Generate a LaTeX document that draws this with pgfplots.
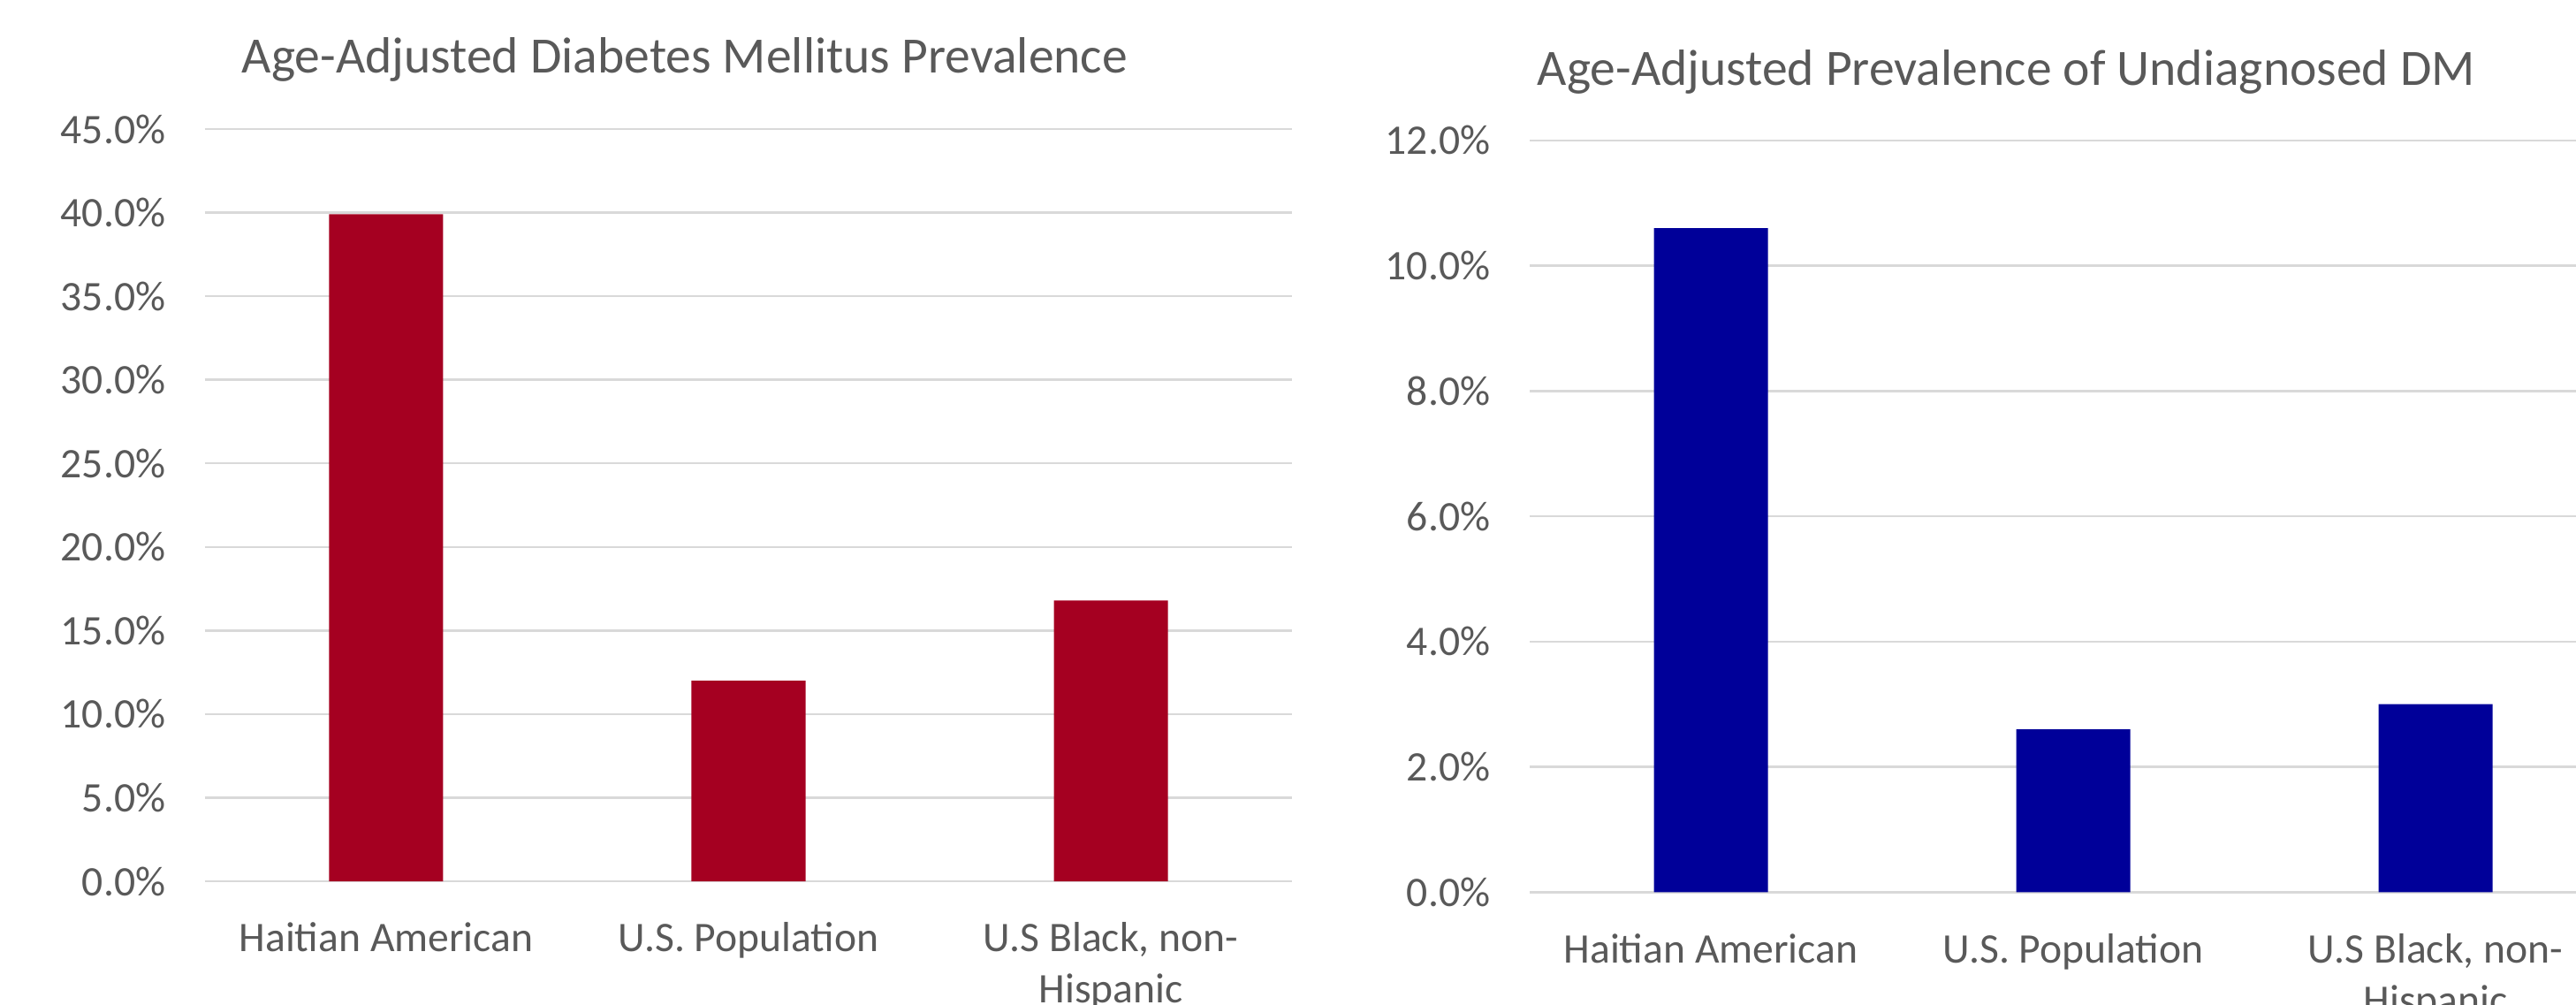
\documentclass[border=0pt]{standalone}
\usepackage{fontspec}
\setmainfont{Carlito}
\usepackage{pgfplots}
\pgfplotsset{compat=1.18}
\definecolor{txt}{HTML}{595959}
\definecolor{gridc}{HTML}{D9D9D9}
\definecolor{barred}{HTML}{A50021}
\definecolor{barblue}{HTML}{000099}
\begin{document}
\begin{tikzpicture}
\clip (0pt,0pt) rectangle (728.75pt,284pt);
\pgfplotsset{
 mystyle/.style={
  anchor=south west, scale only axis, width=307.5pt,
  xmin=-0.5, xmax=2.5, ymin=0,
  axis line style={draw=none},
  ymajorgrids, grid style={gridc, line width=0.6pt},
  major tick length=0pt,
  xtick={0,1,2},
  xticklabels={Haitian American, U.S. Population, {U.S Black, non-\\Hispanic}},
  xticklabel style={align=center, font=\fontsize{11.9}{14.5}\selectfont, text=txt, inner sep=0pt, anchor=north, yshift=-11.5pt},
  yticklabel style={font=\fontsize{11.9}{14.5}\selectfont, text=txt, inner sep=0pt, anchor=east, xshift=-11pt},
  /pgf/number format/assume math mode=true,
  yticklabel={\pgfmathprintnumber[fixed,fixed zerofill,precision=1]{\tick}\%},
  ybar, bar width=32.25pt,
  clip=false,
 }
}
\begin{axis}[mystyle, at={(58pt,34.75pt)}, height=212.75pt, ymax=45, ytick={0,5,...,45}]
\addplot[fill=barred, draw=none] coordinates {(0,39.9) (1,12.0) (2,16.8)};
\end{axis}
\begin{axis}[mystyle, at={(432.75pt,31.675pt)}, height=212.6pt, ymax=12, ytick={0,2,...,12}]
\addplot[fill=barblue, draw=none] coordinates {(0,10.6) (1,2.6) (2,3.0)};
\end{axis}
\node[anchor=base west, inner sep=0pt, text=txt, font=\fontsize{14.4}{17}\selectfont] at (68.25pt,263.25pt) {Age-Adjusted Diabetes Mellitus Prevalence};
\node[anchor=base west, inner sep=0pt, text=txt, font=\fontsize{14.4}{17}\selectfont] at (434.75pt,259.75pt) {Age-Adjusted Prevalence of Undiagnosed DM};
\end{tikzpicture}
\end{document}
